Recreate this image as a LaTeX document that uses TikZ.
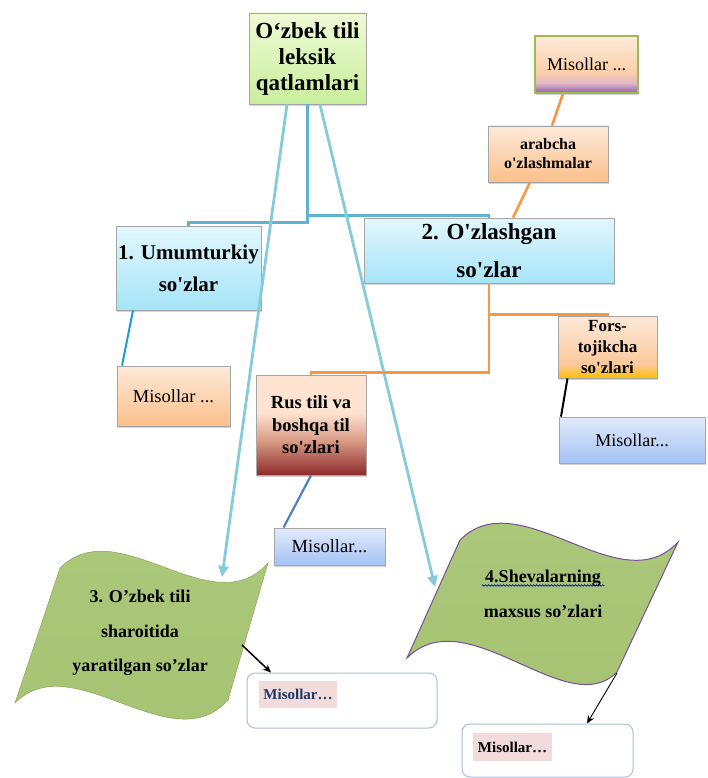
\documentclass[tikz,border=0pt]{standalone}
\usepackage{fontspec}
\setmainfont{Liberation Serif}[Ligatures=TeXOff]
\usetikzlibrary{shadows,decorations.pathmorphing,arrows.meta}

% palette
\definecolor{boxgray}{HTML}{A6A6A6}
\definecolor{titleT}{HTML}{EEFAD6}
\definecolor{titleB}{HTML}{C9EE9C}
\definecolor{peachT}{HTML}{FDE9D9}
\definecolor{peachB}{HTML}{FBC08A}
\definecolor{cyanT}{HTML}{E2F7FD}
\definecolor{cyanB}{HTML}{A6E4F8}
\definecolor{skyT}{HTML}{E2EBFC}
\definecolor{skyB}{HTML}{A4C2F4}
\definecolor{rusT}{HTML}{FDE3D0}
\definecolor{rusM}{HTML}{D89A86}
\definecolor{rusB}{HTML}{8E2A2A}
\definecolor{forsB}{HTML}{FFC000}
\definecolor{forsM}{HTML}{FBC99C}
\definecolor{purpB}{HTML}{9460A8}
\definecolor{purpM}{HTML}{E2B8C4}
\definecolor{mgreen}{HTML}{9BBB59}
\definecolor{flagT}{HTML}{ABC87C}
\definecolor{flagM}{HTML}{97B853}
\definecolor{flagB}{HTML}{A6C372}
\definecolor{flagline}{HTML}{7A4F9A}
\definecolor{lineblue}{HTML}{86CBDC}
\definecolor{midblue}{HTML}{5EB3D0}
\definecolor{lineorange}{HTML}{F79646}
\definecolor{deepblue}{HTML}{1E9AE0}
\definecolor{steel}{HTML}{4F81BD}
\definecolor{softframe}{HTML}{A7C0DE}
\definecolor{mark}{HTML}{F2DCDB}
\definecolor{navy}{HTML}{1F3864}

% vertical shadings (path box maps to 25bp..75bp)
\pgfdeclareverticalshading{russhade}{100bp}{color(0bp)=(rusB); color(25bp)=(rusB); color(42bp)=(rusM); color(56bp)=(rusT); color(75bp)=(rusT); color(100bp)=(rusT)}
\pgfdeclareverticalshading{forsshade}{100bp}{color(0bp)=(forsB); color(25bp)=(forsB); color(36bp)=(forsM); color(75bp)=(peachT); color(100bp)=(peachT)}
\pgfdeclareverticalshading{purpshade}{100bp}{color(0bp)=(purpB); color(25bp)=(purpB); color(34bp)=(purpM); color(44bp)=(peachB!60!peachT); color(75bp)=(peachT); color(100bp)=(peachT)}

\tikzset{
  shadowed/.style={drop shadow={shadow xshift=1.3pt, shadow yshift=-1.6pt, opacity=.35}},
  card/.style={draw=boxgray, line width=0.8pt, align=center, inner sep=0pt, shadowed},
  peachcard/.style={card, top color=peachT, bottom color=peachB},
  cyancard/.style={card, top color=cyanT, bottom color=cyanB},
  skycard/.style={card, top color=skyT, bottom color=skyB},
  flagshape/.style={top color=flagT, middle color=flagM, bottom color=flagB},
  softbox/.style={draw=softframe, line width=1pt, rounded corners=8pt, fill=white},
  marktext/.style={fill=mark, inner sep=0pt, font=\fontsize{15}{18}\selectfont\bfseries},
  cblue/.style={draw=lineblue, line width=2.8pt, -{Triangle[length=11pt,width=10pt]}},
  cmid/.style={draw=midblue, line width=2.6pt},
  corange/.style={draw=lineorange, line width=2.6pt},
  darrow/.style={draw=black, -{Stealth[length=8pt,width=7pt]}}
}

\begin{document}
\begin{tikzpicture}[x=1pt,y=-1pt]
\useasboundingbox (0,0) rectangle (707,778);

% flags
\path[flagshape, draw=flagM!85!black, line width=0.4pt] (60,568) .. controls (118,510) and (212,626) .. (268,563)
  -- (228,700) .. controls (172,763) and (73,645) .. (15,703) -- cycle;
\path[flagshape, draw=flagline, line width=1pt] (460,540) .. controls (520,480) and (620,605) .. (678,542)
  -- (617,672) .. controls (567,723) and (467,598) .. (407,658) -- cycle;

% boxes
\node[card, top color=titleT, bottom color=titleB, minimum width=117pt, minimum height=91pt,
      font=\fontsize{23}{26}\selectfont\bfseries] (title) at (307.5,58.5) {O‘zbek tili\\leksik\\qatlamlari};
\node[card, draw=mgreen, line width=1.2pt, shading=purpshade, minimum width=103pt, minimum height=57pt,
      font=\fontsize{18}{20}\selectfont] (mtop) at (586.5,64.5) {Misollar ...};
\node[peachcard, minimum width=120pt, minimum height=56pt,
      font=\fontsize{16}{19}\selectfont\bfseries] (arab) at (548,154) {arabcha\\o'zlashmalar};
\node[cyancard, minimum width=145pt, minimum height=84pt,
      font=\fontsize{21}{32}\selectfont\bfseries] (box1) at (188.5,268) {1. Umumturkiy\\so'zlar};
\node[cyancard, minimum width=250pt, minimum height=65pt,
      font=\fontsize{23}{38}\selectfont\bfseries] (box2) at (489,250.5) {2. O'zlashgan\\so'zlar};
\node[peachcard, minimum width=113pt, minimum height=60pt,
      font=\fontsize{18.5}{20}\selectfont] (mleft) at (173.5,396) {Misollar ...};
\node[card, shading=russhade, minimum width=110pt, minimum height=100pt,
      font=\fontsize{18.5}{22.5}\selectfont\bfseries] (rus) at (311,425) {Rus tili va\\boshqa til\\so'zlari};
\node[card, shading=forsshade, minimum width=99pt, minimum height=62pt,
      font=\fontsize{17}{21}\selectfont\bfseries] (fors) at (607.5,347) {Fors-\\tojikcha\\so'zlari};
\node[skycard, minimum width=146pt, minimum height=46pt,
      font=\fontsize{18}{20}\selectfont] (mright) at (632,440) {Misollar...};
\node[skycard, minimum width=111pt, minimum height=37pt,
      font=\fontsize{18.5}{20}\selectfont] (mmid) at (329.5,546.5) {Misollar...};

% flag texts
\node[align=center, font=\fontsize{18}{34.5}\selectfont\bfseries] (f3text) at (140,633)
  {3. O’zbek tili\\sharoitida\\yaratilgan so’zlar};
\node[anchor=base, font=\fontsize{18}{22}\selectfont\bfseries] (f4a) at (543,582) {4.Shevalarning};
\node[anchor=base, font=\fontsize{18}{22}\selectfont\bfseries] (f4b) at (543,617) {maxsus so’zlari};
\draw[blue!85!black, line width=0.6pt, decorate, decoration={snake, amplitude=0.8pt, segment length=3pt}]
  ([yshift=-3.5pt]f4a.base west) -- ([yshift=-3.5pt]f4a.base east);

% example boxes under the flags
\node[softbox, minimum width=190pt, minimum height=55pt] (box13) at (342,700.5) {};
\node[marktext, text=navy, minimum width=78pt, minimum height=27pt] (m13) at (298,694.5) {Misollar…};
\node[softbox, minimum width=171pt, minimum height=53pt] (box14) at (547.5,750.5) {};
\node[marktext, minimum width=79pt, minimum height=28pt] (m14) at (512.5,747) {Misollar…};

% anchor points on the flags
\coordinate (f3in) at (222,577);
\coordinate (f4in) at (435,587);
\coordinate (f3out) at (242,645);
\coordinate (f4out) at (617,673);

% connectors from the title
\draw[cmid] (title.south) -- ++(0,118) -| (box1.north);
\draw[cmid] (title.south) -- ++(0,111) -| (box2.north);
\draw[cblue] ([xshift=-20.5pt]title.south) -- (f3in);
\draw[cblue] ([xshift=12.5pt]title.south) -- (f4in);

% borrowed-word branches
\draw[corange] (box2.south) -- ++(0,31) -| (fors.north);
\draw[corange] (box2.south) -- ++(0,89) -| (rus.north);
\draw[corange] ([xshift=-18pt]arab.south) -- ([xshift=24pt]box2.north);
\draw[corange] ([xshift=-23.5pt]mtop.south) -- ([xshift=4pt]arab.north);

% example links
\draw[draw=deepblue, line width=2pt] ([xshift=-55.5pt]box1.south) -- ([xshift=-51.5pt]mleft.north);
\draw[draw=black, line width=2pt] ([xshift=-40pt]fors.south) -- ([xshift=-71pt]mright.north);
\draw[draw=steel, line width=2.2pt] (rus.south) -- ([xshift=-46pt]mmid.north);
\draw[darrow, line width=1.5pt] (f3out) -- ([xshift=-71pt]box13.north);
\draw[darrow, line width=0.9pt] (f4out) -- ([xshift=39.5pt]box14.north);
\end{tikzpicture}
\end{document}
